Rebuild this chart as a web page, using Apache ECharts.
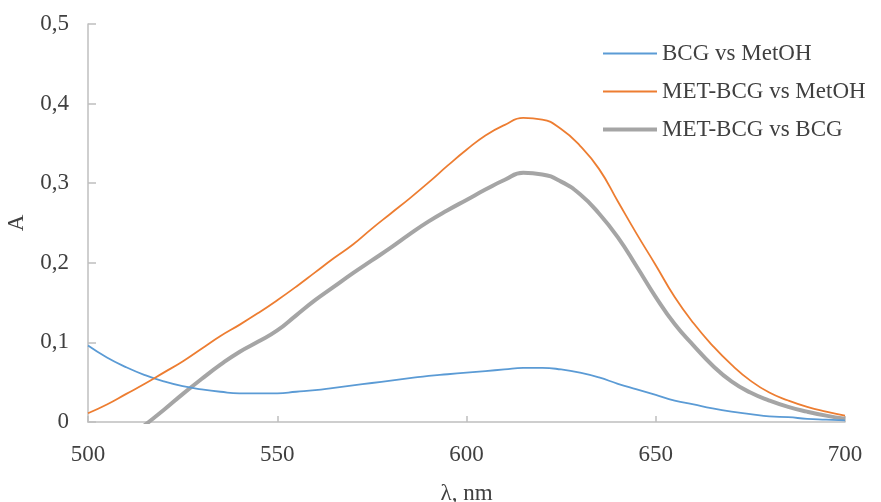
<!DOCTYPE html>
<html>
<head>
<meta charset="utf-8">
<script src="https://cdn.jsdelivr.net/npm/echarts@6/dist/echarts.min.js"></script>
<style>html,body{margin:0;padding:0;background:#fff}#c{width:881px;height:502px}</style>
</head>
<body>
<div id="c"></div>
<script>
var wavelengths = [500,505,510,515,520,525,530,535,540,545,550,555,560,565,570,575,580,585,590,595,600,605,610,615,620,625,630,635,640,645,650,655,660,665,670,675,680,685,690,695,700];
var bcgVsMetOH = [0.096,0.081,0.069,0.059,0.051,0.045,0.041,0.038,0.036,0.036,0.036,0.038,0.040,0.043,0.046,0.049,0.052,0.055,0.058,0.060,0.062,0.064,0.066,0.068,0.068,0.066,0.062,0.056,0.048,0.041,0.034,0.027,0.022,0.017,0.013,0.010,0.007,0.006,0.004,0.003,0.002];
var metBcgVsMetOH = [0.011,0.022,0.035,0.048,0.062,0.076,0.092,0.108,0.122,0.137,0.153,0.170,0.188,0.206,0.223,0.243,0.262,0.281,0.301,0.322,0.342,0.360,0.373,0.382,0.380,0.368,0.347,0.318,0.277,0.236,0.197,0.157,0.124,0.096,0.072,0.052,0.037,0.027,0.019,0.013,0.008];
var metBcgVsBcg = [-0.060,-0.042,-0.023,-0.004,0.015,0.035,0.054,0.072,0.088,0.101,0.115,0.134,0.153,0.170,0.187,0.203,0.219,0.236,0.252,0.266,0.279,0.292,0.304,0.313,0.311,0.302,0.286,0.262,0.232,0.195,0.157,0.123,0.096,0.071,0.051,0.037,0.027,0.019,0.013,0.008,0.004];
var seriesNames = ['BCG vs MetOH','MET-BCG vs MetOH','MET-BCG vs BCG'];
var xTicks = {min:500, max:700, interval:50};
var yTicks = {min:0, max:0.5, interval:0.1};

function pairs(vals){ return wavelengths.map(function(w,i){ return [w, vals[i]]; }); }
var font = 'Liberation Serif';
var txt = '#404040';
var axisCol = '#BFBFBF';
var colors = ['#5B9BD5','#ED7D31','#A5A5A5'];
var widths = [1.8,1.8,4];
var legendTops = [37,75,113];
var legends = seriesNames.map(function(n,i){
  return {
    orient:'vertical', left:598, top:legendTops[i], itemWidth:54, itemHeight:widths[i],
    icon:'rect', data:[n], selectedMode:false,
    textStyle:{fontFamily:font, fontSize:23, color:txt}
  };
});
var chart = echarts.init(document.getElementById('c'), null, {renderer:'canvas'});
chart.setOption({
  animation:false,
  backgroundColor:'#fff',
  grid:{left:88, right:36, top:24, bottom:80, containLabel:false, outerBoundsMode:'none'},
  legend:legends,
  xAxis:{
    type:'value', min:xTicks.min, max:xTicks.max, interval:xTicks.interval,
    name:'λ, nm', nameLocation:'middle', nameGap:60,
    nameTextStyle:{fontFamily:font, fontSize:23, color:txt},
    axisLine:{show:true, lineStyle:{color:axisCol, width:1.5}},
    axisTick:{show:true, inside:true, length:6, lineStyle:{color:axisCol, width:1.5}},
    axisLabel:{fontFamily:font, fontSize:23, color:txt, margin:21},
    splitLine:{show:false}
  },
  yAxis:{
    type:'value', min:yTicks.min, max:yTicks.max, interval:yTicks.interval,
    name:'A', nameLocation:'middle', nameGap:60, nameRotate:90,
    nameTextStyle:{fontFamily:font, fontSize:23, color:txt},
    axisLine:{show:true, lineStyle:{color:axisCol, width:1.5}},
    axisTick:{show:true, inside:true, length:8, lineStyle:{color:axisCol, width:1.5}},
    axisLabel:{fontFamily:font, fontSize:23, color:txt, margin:19,
      formatter:function(v){ return String(Math.round(v*10)/10).replace('.', ','); }},
    splitLine:{show:false}
  },
  series:seriesNames.map(function(n,i){
    var d = [bcgVsMetOH, metBcgVsMetOH, metBcgVsBcg][i];
    return {name:n, type:'line', data:pairs(d), symbol:'none', smooth:0.5, clip:true,
      lineStyle:{color:colors[i], width:widths[i]}, itemStyle:{color:colors[i]}, z:(i===2?2:3)};
  })
});
</script>
</body>
</html>
